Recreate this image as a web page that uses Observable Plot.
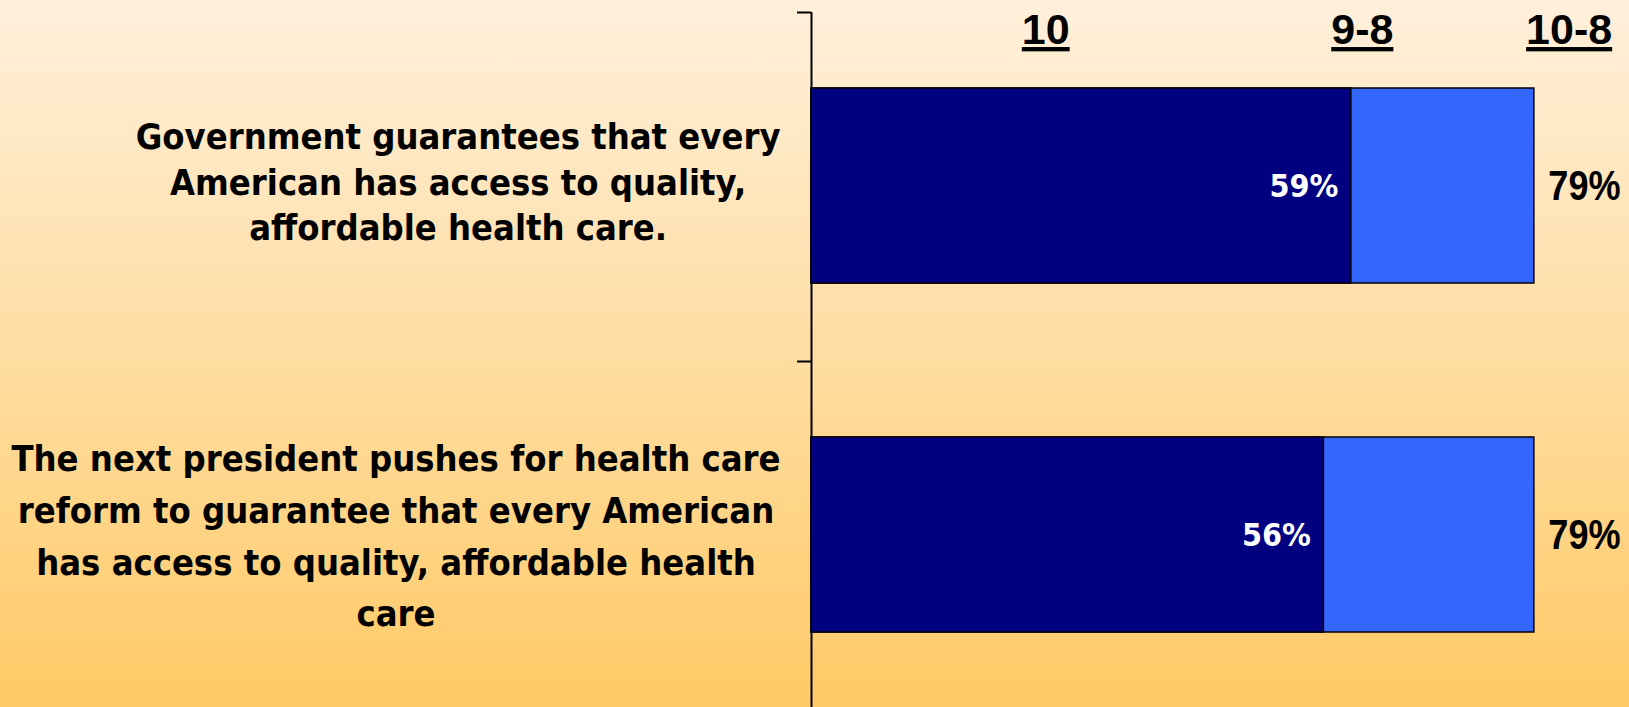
<!DOCTYPE html>
<html>
<head>
<meta charset="utf-8">
<script src="https://cdn.jsdelivr.net/npm/d3@7"></script>
<script src="https://cdn.jsdelivr.net/npm/@observablehq/plot@0.6"></script>
<style>
  html, body { margin: 0; padding: 0; }
  body {
    width: 1629px; height: 707px; overflow: hidden;
    background: linear-gradient(to bottom, #FFF0DC 0%, #FFDDA2 50%, #FFCA66 100%);
  }
</style>
</head>
<body>
<script>
// ---- data ----
const categories = [
  "Government guarantees that every\nAmerican has access to quality,\naffordable health care.",
  "The next president pushes for health care\nreform to guarantee that every American\nhas access to quality, affordable health\ncare"
];
const top10 = [59, 56];        // rating 10
const total108 = [79, 79];     // rating 10-8
const headers = ["10", "9-8", "10-8"];
const headerX = [25.6, 60.2, 82.8]; // header placement in percent units

const rows = categories.map((c, i) => ({cat: c, i, top10: top10[i], total: total108[i]}));

const labelStyle = {x: 0, y: d => d.i + 0.5, text: "cat", textAnchor: "end", dx: -31, lineAnchor: "middle",
  fill: "#000", fontSize: 36, fontWeight: "bold", fontFamily: "DejaVu Sans Condensed, DejaVu Sans"};

const plot = Plot.plot({
  width: 1629,
  height: 707,
  marginLeft: 811,
  marginRight: 0,
  marginTop: 12,
  marginBottom: 0,
  style: {background: "transparent", overflow: "visible"},
  x: {domain: [0, 100], range: [811, 1726], axis: null, label: null},
  y: {domain: [0, 2], range: [12, 710], axis: null, label: null},
  marks: [
    Plot.ruleX([0], {stroke: "#000", strokeWidth: 2}),
    Plot.axisY({ticks: [0, 1], tickSize: 14, tickFormat: () => "", label: null, strokeWidth: 2, stroke: "#000"}),
    Plot.rect(rows, {x1: 0, x2: "total", y1: "i", y2: d => d.i + 1, insetTop: 76, insetBottom: 78,
      fill: "#3366FF", stroke: "#000", strokeWidth: 1.5}),
    Plot.rect(rows, {x1: 0, x2: "top10", y1: "i", y2: d => d.i + 1, insetTop: 76, insetBottom: 78,
      fill: "#000080", stroke: "#000", strokeWidth: 1.5}),
    Plot.text(rows, {x: "top10", y: d => d.i + 0.5, text: d => d.top10 + "%", textAnchor: "end", dx: -13,
      fill: "#fff", fontSize: 32, fontWeight: "bold", fontFamily: "DejaVu Sans Condensed, DejaVu Sans"}),
    Plot.text(rows, {x: "total", y: d => d.i + 0.5, text: d => d.total + "%", textAnchor: "start", dx: 14,
      fill: "#000", fontSize: 42, fontWeight: "bold", fontFamily: "Liberation Sans, Arial"}),
    Plot.text(headers, {x: (d, k) => headerX[k], frameAnchor: "top", lineAnchor: "top", dy: 1, text: d => d,
      fill: "#000", fontSize: 43, fontWeight: "bold", fontFamily: "Liberation Sans, Arial"}),
    Plot.text(rows, {...labelStyle, filter: d => d.i === 0, lineHeight: 1.26, dy: -7}),
    Plot.text(rows, {...labelStyle, filter: d => d.i === 1, lineHeight: 1.44, dy: -4})
  ]
});
document.body.append(plot);

// underline the column headers, narrow the total labels, and centre each multi-line label block
const totalLabels = total108.map(v => v + "%");
plot.querySelectorAll("text").forEach(t => {
  if (headers.includes(t.textContent)) t.style.textDecoration = "underline";
  if (totalLabels.includes(t.textContent) && t.getAttribute("transform")) {
    t.setAttribute("transform", t.getAttribute("transform") + " scale(0.86,1)");
  }
  const spans = t.querySelectorAll("tspan");
  if (spans.length > 1) {
    const w = t.getBBox().width;
    t.setAttribute("text-anchor", "middle");
    spans.forEach(s => s.setAttribute("x", -w / 2));
  }
});
</script>
</body>
</html>
